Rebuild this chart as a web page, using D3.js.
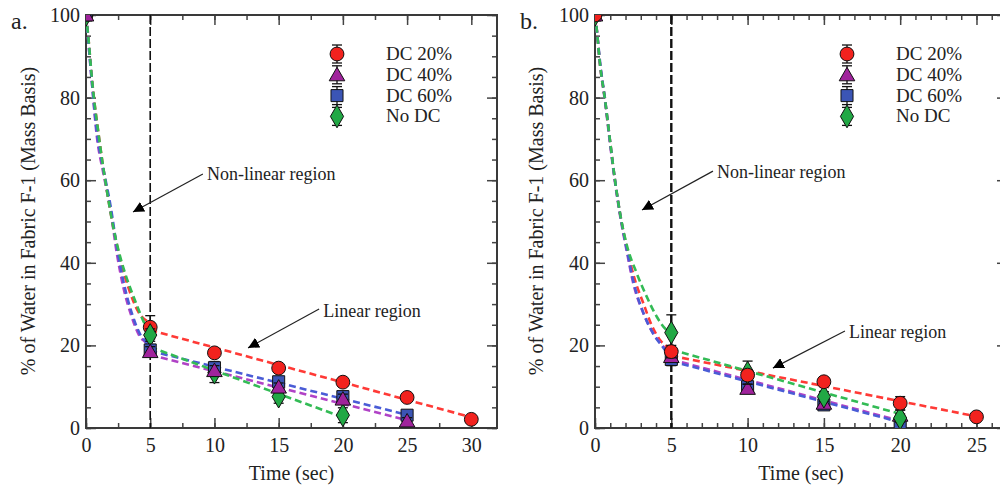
<!DOCTYPE html>
<html>
<head>
<meta charset="utf-8">
<script src="https://cdn.jsdelivr.net/npm/d3@7"></script>
<style>
  body { margin: 0; background: #fff; }
  svg text { font-family: "Liberation Serif", "Times New Roman", Times, "DejaVu Serif", serif !important; }
</style>
</head>
<body>
<div id="chart"></div>
<script>
// series names, in legend order
const seriesNames = ["DC 20%", "DC 40%", "DC 60%", "No DC"];

// panel a: measured points (time in sec, % water)
const timesA20 = [0, 5, 10, 15, 20, 25, 30];
const timesA40 = [0, 5, 10, 15, 20, 25];
const timesA60 = [0, 5, 10, 15, 20, 25];
const timesANo = [0, 5, 10, 15, 20];
const valsA20 = [100, 24.4, 18.2, 14.5, 11.1, 7.4, 2.1];
const valsA40 = [100, 18.5, 13.9, 9.9, 7.0, 1.7];
const valsA60 = [100, 18.9, 14.6, 11.2, 7.6, 3.1];
const valsANo = [100, 22.5, 13.4, 7.6, 3.1];
const errA20 = [0, 2.8, 0.8, 0.6, 0.6, 0.5, 0.4];
const errA40 = [0, 1.2, 1.2, 1.0, 1.2, 0.8];
const errA60 = [0, 1.2, 1.5, 1.2, 1.2, 0.8];
const errANo = [0, 1.5, 2.4, 1.6, 1.8];

// panel b: measured points
const timesB20 = [0, 5, 10, 15, 20, 25];
const timesB40 = [0, 5, 10, 15, 20];
const timesB60 = [0, 5, 10, 15, 20];
const timesBNo = [0, 5, 10, 15, 20];
const valsB20 = [100, 18.5, 12.8, 11.2, 6.0, 2.7];
const valsB40 = [100, 17.3, 9.6, 6.0, 3.1];
const valsB60 = [100, 16.6, 10.0, 5.6, 1.0];
const valsBNo = [100, 23.1, 13.4, 7.6, 2.4];
const errB20 = [0, 1.5, 1.2, 0.8, 1.6, 0.6];
const errB40 = [0, 1.2, 1.0, 0.8, 1.2];
const errB60 = [0, 1.5, 1.0, 0.8, 1.0];
const errBNo = [0, 4.3, 2.8, 1.2, 1.0];

// fitted curves: non-linear part [t, v]
const fitA20 = [[0,100],[0.2,94],[0.45,85],[0.65,79],[0.9,73],[1.25,65],[1.65,57],[2.1,49],[2.65,41],[3.3,34],[4.1,28],[5,25.5]];
const fitA40 = [[0,100],[0.2,93],[0.45,84],[0.83,71],[1.35,61.7],[1.87,53.6],[2.4,42.3],[2.9,34.2],[3.55,27],[4.2,22.1],[4.75,20.3],[5,18.5]];
const fitA60 = [[0,100],[0.2,93],[0.45,84],[0.85,71.5],[1.4,62],[1.9,54],[2.45,43],[2.95,35],[3.6,27.5],[4.25,22.5],[4.75,20.5],[5,19]];
const fitANo = [[0,100],[0.2,94],[0.45,85],[0.65,79],[0.9,73],[1.25,65],[1.65,57],[2.1,49],[2.7,41],[3.2,36],[3.8,31],[4.45,26],[5,22.5]];
const fitB20 = [[0,100],[0.1,97],[0.33,88],[0.66,79.4],[0.98,69.7],[1.31,60],[1.64,52],[2.07,43.9],[2.62,35.8],[3.17,30.2],[3.71,24.9],[4.26,21.3],[4.7,19.7],[5,18.5]];
const fitB40 = [[0,100],[0.1,97],[0.33,88],[0.66,79],[0.98,69],[1.31,59.5],[1.64,51.5],[2.07,43],[2.51,35],[3.17,27.8],[3.82,22.9],[4.48,19.7],[5,17.3]];
const fitB60 = [[0,100],[0.1,97],[0.35,88],[0.68,79],[1.0,69],[1.33,59.5],[1.66,51.5],[2.1,43],[2.55,35],[3.2,27.6],[3.85,22.6],[4.5,19.3],[5,16.6]];
const fitBNo = [[0,100],[0.1,97],[0.33,88],[0.66,79.4],[0.98,69.7],[1.31,60],[1.64,52],[2.07,44.5],[2.73,37.5],[3.39,31.8],[4.04,27],[4.7,23.7],[5,23]];

// fitted straight lines (linear region)
const linA20 = [[5,23.7],[30,2.6]];
const linA40 = [[5,17.7],[25,1.9]];
const linA60 = [[5,18.7],[25,3.2]];
const linANo = [[5,19.6],[20,2.6]];
const linB20 = [[5,17.5],[25,2.8]];
const linB40 = [[5,16.6],[20,1.7]];
const linB60 = [[5,16.2],[20,1.4]];
const linBNo = [[5,19],[20,3.4]];

// axis ticks
const yMajor = [0, 20, 40, 60, 80, 100];
const yMinor = d3.range(0, 101, 5);
const xMajorA = [0, 5, 10, 15, 20, 25, 30];
const xMinorA = d3.range(0, 32.1, 2.5);
const xMajorB = [0, 5, 10, 15, 20, 25];
const xMinorB = d3.range(0, 27.1, 1);

const width = 1000, height = 489;
const serif = "'Liberation Serif', 'Times New Roman', Times, 'DejaVu Serif', serif";
const markerFill = ["#f2221e", "#a0239c", "#3b55b5", "#22a845"];
const lineColor = ["#ff3a36", "#b042c6", "#4a5cd6", "#33bb55"];
const shapes = [d3.symbolCircle, d3.symbolTriangle, d3.symbolSquare, d3.symbolDiamond];
const shapeSize = [150, 105, 145, 150];

const svg = d3.select("#chart").append("svg")
    .attr("width", width)
    .attr("height", height);

const defs = svg.append("defs");
defs.append("marker")
    .attr("id", "arrowhead")
    .attr("viewBox", "0 0 10 10")
    .attr("refX", 10).attr("refY", 5)
    .attr("markerWidth", 11).attr("markerHeight", 11)
    .attr("markerUnits", "userSpaceOnUse")
    .attr("orient", "auto")
    .append("path")
    .attr("d", "M0,0 L10,5 L0,10 Z")
    .attr("fill", "#000");

function drawPanel(p) {
    const x = d3.scaleLinear().domain(p.xDomain).range([p.left, p.right]);
    const y = d3.scaleLinear().domain([0, 100]).range([p.bottom, p.top]);

    const clipId = "clip-" + p.label;
    defs.append("clipPath").attr("id", clipId)
        .append("rect")
        .attr("x", p.left).attr("y", p.top)
        .attr("width", p.right - p.left).attr("height", p.bottom - p.top);

    const g = svg.append("g").style("font-family", serif);

    // ticks (all inward) on four sides
    function tickAxis(axis, tx, ty, vals, size, labels, pad) {
        const a = axis.tickValues(vals).tickSize(-size).tickPadding(pad);
        if (!labels) a.tickFormat("");
        const sel = g.append("g").attr("transform", `translate(${tx},${ty})`).call(a);
        sel.attr("font-family", null);
        sel.select(".domain").remove();
        sel.selectAll(".tick line").attr("stroke", "#444").attr("stroke-width", 1.5);
        sel.selectAll("text").attr("font-size", 20).attr("fill", "#222")
            .style("font-family", serif);
        return sel;
    }
    tickAxis(d3.axisBottom(x), 0, p.bottom, p.xMinor, 5, false, 10);
    tickAxis(d3.axisBottom(x), 0, p.bottom, p.xMajor, 10, true, 10);
    tickAxis(d3.axisTop(x), 0, p.top, p.xMinor, 5, false, 0);
    tickAxis(d3.axisTop(x), 0, p.top, p.xMajor, 10, false, 0);
    tickAxis(d3.axisLeft(y), p.left, 0, yMinor, 5, false, 6);
    tickAxis(d3.axisLeft(y), p.left, 0, yMajor, 10, true, 6);
    tickAxis(d3.axisRight(y), p.right, 0, yMinor, 5, false, 0);
    tickAxis(d3.axisRight(y), p.right, 0, yMajor, 10, false, 0);

    // frame
    g.append("rect")
        .attr("x", p.left).attr("y", p.top)
        .attr("width", p.right - p.left).attr("height", p.bottom - p.top)
        .attr("fill", "none").attr("stroke", "#3a3a3a").attr("stroke-width", 2);

    // vertical boundary at t = 5
    g.append("line")
        .attr("x1", x(5)).attr("x2", x(5))
        .attr("y1", y(100)).attr("y2", y(0))
        .attr("stroke", "#111").attr("stroke-width", p.vWidth)
        .attr("stroke-dasharray", "9,3");

    const plot = g.append("g").attr("clip-path", `url(#${clipId})`);

    const curve = d3.line().x(d => x(d[0])).y(d => y(d[1])).curve(d3.curveMonotoneX);
    const straight = d3.line().x(d => x(d[0])).y(d => y(d[1]));

    p.series.forEach((s, i) => {
        plot.append("path").datum(s.fit)
            .attr("d", curve)
            .attr("fill", "none").attr("stroke", lineColor[i])
            .attr("stroke-width", 2.6).attr("stroke-dasharray", "7,4");
        plot.append("path").datum(s.lin)
            .attr("d", straight)
            .attr("fill", "none").attr("stroke", lineColor[i])
            .attr("stroke-width", 2.6).attr("stroke-dasharray", "7,4");
    });

    // error bars and markers
    p.order.forEach(i => {
        const s = p.series[i];
        const pts = s.t.map((t, k) => ({ t, v: s.v[k], e: s.e[k] }));
        const eb = plot.append("g").selectAll("g").data(pts.filter(d => d.e > 0)).enter().append("g");
        eb.append("line")
            .attr("x1", d => x(d.t)).attr("x2", d => x(d.t))
            .attr("y1", d => y(d.v - d.e)).attr("y2", d => y(d.v + d.e))
            .attr("stroke", "#111").attr("stroke-width", 1.3);
        [-1, 1].forEach(sign => {
            eb.append("line")
                .attr("x1", d => x(d.t) - 5).attr("x2", d => x(d.t) + 5)
                .attr("y1", d => y(d.v + sign * d.e)).attr("y2", d => y(d.v + sign * d.e))
                .attr("stroke", "#111").attr("stroke-width", 1.3);
        });
        plot.append("g").selectAll("path").data(pts).enter().append("path")
            .attr("transform", d => `translate(${x(d.t)},${y(d.v) + (i === 1 ? 1.5 : 0)})`)
            .attr("d", d3.symbol().type(shapes[i]).size(shapeSize[i]))
            .attr("fill", markerFill[i]).attr("stroke", "#111").attr("stroke-width", 1);
    });

    // legend
    seriesNames.forEach((name, i) => {
        const ly = p.legendY + i * 20.8;
        const lg = g.append("g");
        lg.append("line")
            .attr("x1", p.legendX).attr("x2", p.legendX)
            .attr("y1", ly - 9).attr("y2", ly + 9)
            .attr("stroke", "#111").attr("stroke-width", 1.3);
        [-9, 9].forEach(dy => lg.append("line")
            .attr("x1", p.legendX - 5).attr("x2", p.legendX + 5)
            .attr("y1", ly + dy).attr("y2", ly + dy)
            .attr("stroke", "#111").attr("stroke-width", 1.3));
        lg.append("path")
            .attr("transform", `translate(${p.legendX},${ly + (i === 1 ? 1.5 : 0)})`)
            .attr("d", d3.symbol().type(shapes[i]).size(shapeSize[i]))
            .attr("fill", markerFill[i]).attr("stroke", "#111").attr("stroke-width", 1);
        lg.append("text")
            .attr("x", p.legendX + 49).attr("y", ly + 6)
            .attr("font-size", 19).attr("fill", "#222")
            .text(name);
    });

    // annotations
    p.notes.forEach(n => {
        g.append("text")
            .attr("x", x(n.tx)).attr("y", y(n.ty) + 6)
            .attr("font-size", 18).attr("fill", "#222")
            .text(n.text);
        g.append("line")
            .attr("x1", x(n.from[0])).attr("y1", y(n.from[1]))
            .attr("x2", x(n.to[0])).attr("y2", y(n.to[1]))
            .attr("stroke", "#222").attr("stroke-width", 1.2)
            .attr("marker-end", "url(#arrowhead)");
    });

    // axis titles and panel label
    g.append("text")
        .attr("x", (p.left + p.right) / 2).attr("y", 480)
        .attr("text-anchor", "middle").attr("font-size", 20).attr("fill", "#222")
        .text("Time (sec)");
    g.append("text")
        .attr("transform", `translate(${p.yTitleX},221) rotate(-90)`)
        .attr("text-anchor", "middle").attr("font-size", 20).attr("fill", "#222")
        .text("% of Water in Fabric F-1 (Mass Basis)");
    g.append("text")
        .attr("x", p.labelX).attr("y", 29)
        .attr("font-size", 24).attr("fill", "#222")
        .text(p.label + ".");
}

drawPanel({
    label: "a",
    xDomain: [0, 32], left: 86, right: 497, top: 15, bottom: 428,
    xMajor: xMajorA, xMinor: xMinorA, vWidth: 1.6,
    legendX: 337, legendY: 54, yTitleX: 35, labelX: 11,
    order: [0, 3, 2, 1],
    series: [
        { t: timesA20, v: valsA20, e: errA20, fit: fitA20, lin: linA20 },
        { t: timesA40, v: valsA40, e: errA40, fit: fitA40, lin: linA40 },
        { t: timesA60, v: valsA60, e: errA60, fit: fitA60, lin: linA60 },
        { t: timesANo, v: valsANo, e: errANo, fit: fitANo, lin: linANo }
    ],
    notes: [
        { text: "Non-linear region", tx: 9.43, ty: 61.5, from: [9.1, 61.5], to: [3.66, 52.3] },
        { text: "Linear region", tx: 18.47, ty: 28.3, from: [18.15, 28.8], to: [12.62, 19.4] }
    ]
});

drawPanel({
    label: "b",
    xDomain: [0, 27], left: 595, right: 1007, top: 15, bottom: 428,
    xMajor: xMajorB, xMinor: xMinorB, vWidth: 2.4,
    legendX: 847, legendY: 54, yTitleX: 543, labelX: 520,
    order: [2, 1, 3, 0],
    series: [
        { t: timesB20, v: valsB20, e: errB20, fit: fitB20, lin: linB20 },
        { t: timesB40, v: valsB40, e: errB40, fit: fitB40, lin: linB40 },
        { t: timesB60, v: valsB60, e: errB60, fit: fitB60, lin: linB60 },
        { t: timesBNo, v: valsBNo, e: errBNo, fit: fitBNo, lin: linBNo }
    ],
    notes: [
        { text: "Non-linear region", tx: 8.0, ty: 62, from: [7.73, 62.2], to: [3.08, 52.8] },
        { text: "Linear region", tx: 16.64, ty: 23.2, from: [16.38, 23.5], to: [11.66, 14.5] }
    ]
});
</script>
</body>
</html>
